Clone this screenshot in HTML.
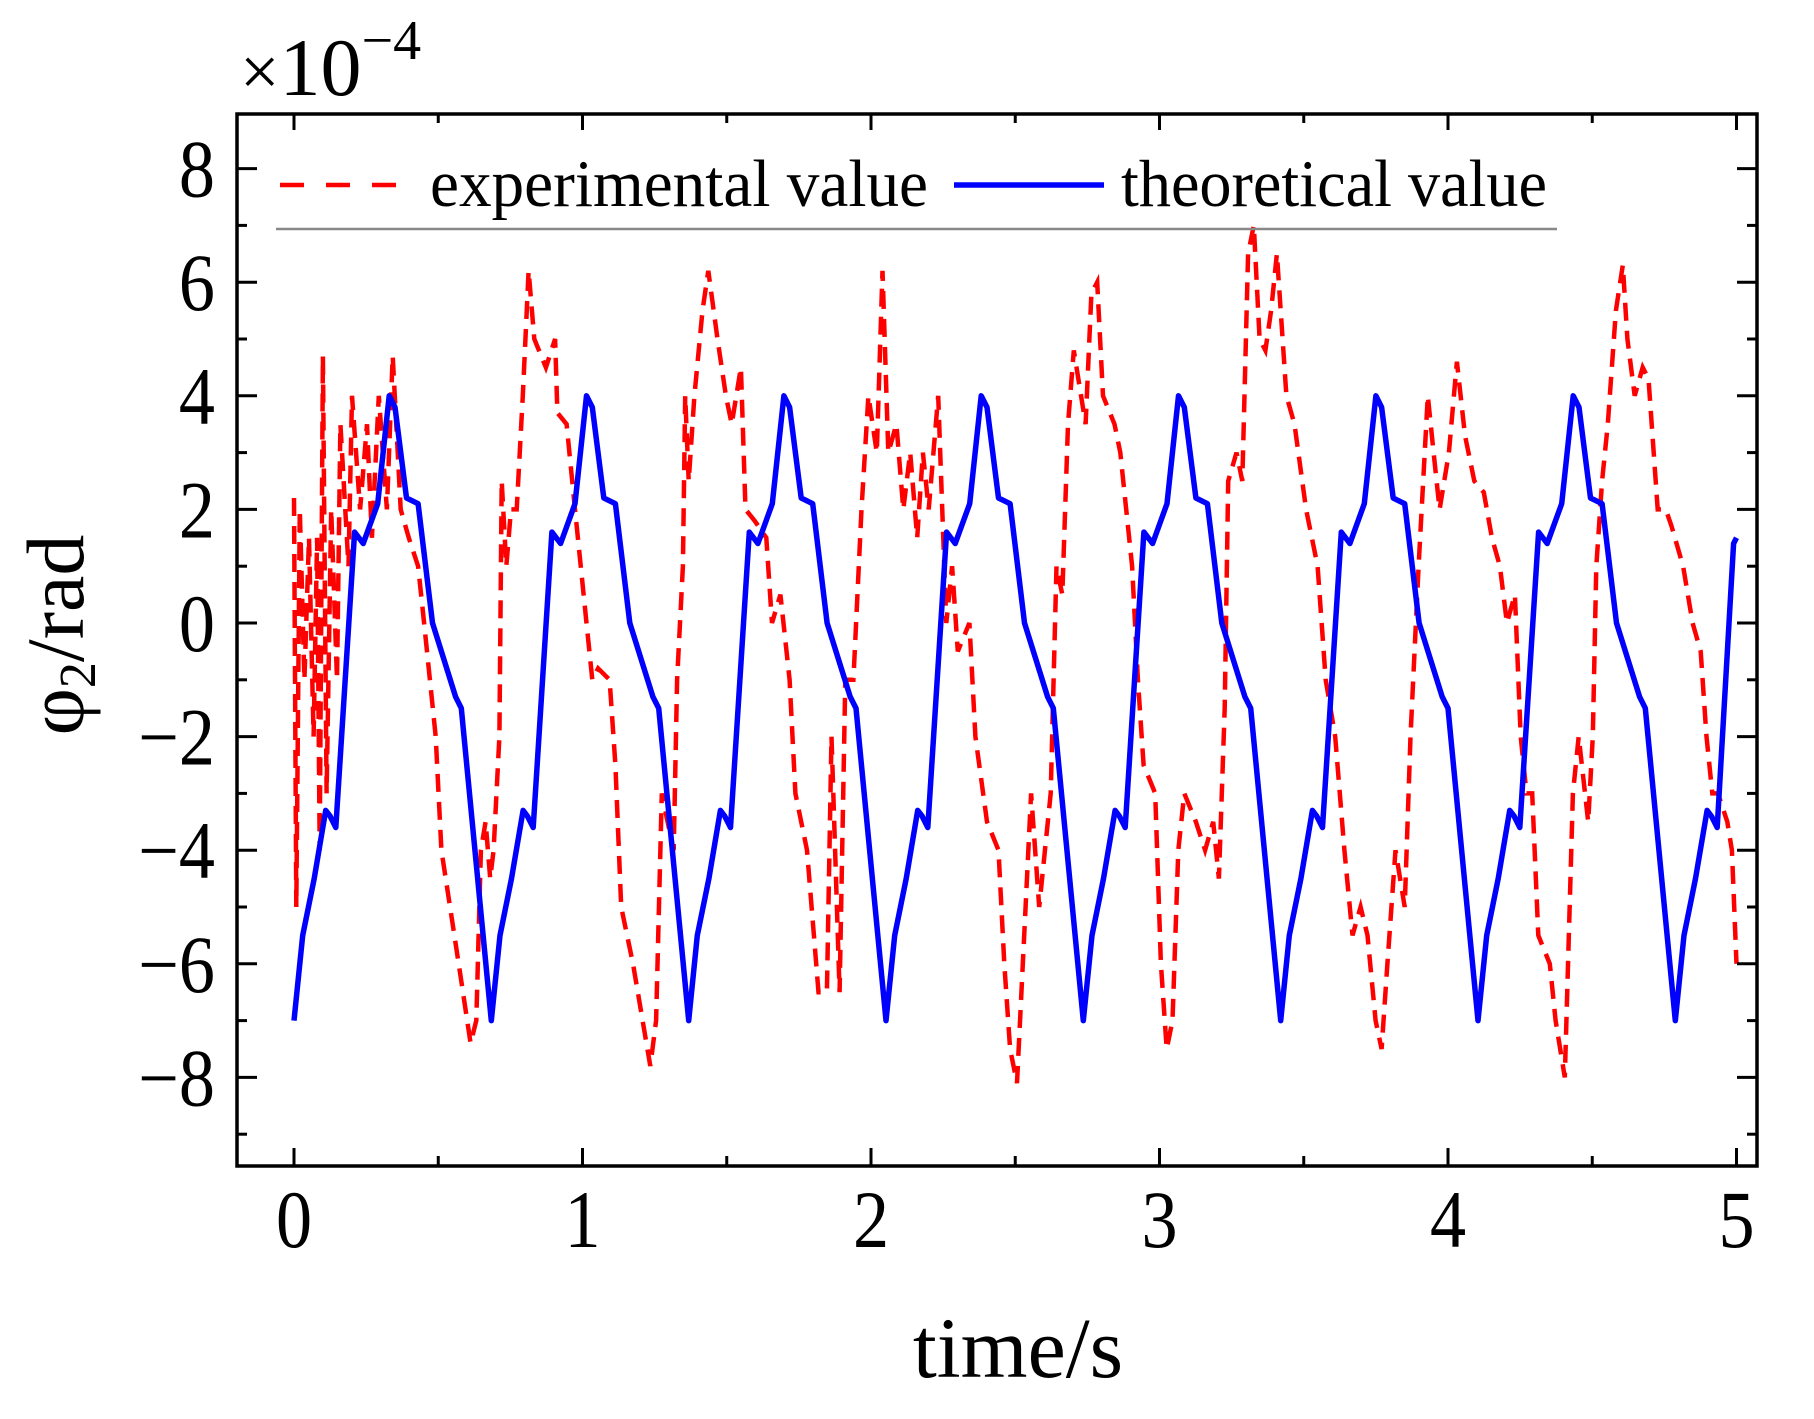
<!DOCTYPE html>
<html><head><meta charset="utf-8"><style>
html,body{margin:0;padding:0;background:#fff;}
svg{display:block;}
text{font-family:"Liberation Serif","Times New Roman",serif;fill:#000;}
</style></head>
<body>
<svg id="chart" width="1814" height="1419" viewBox="0 0 1814 1419" xmlns="http://www.w3.org/2000/svg">
<rect x="0" y="0" width="1814" height="1419" fill="#fff"/>
<g id="plot"></g>
<g id="axes"></g>
</svg>
<script>
// ---- data ----
const xTickValues = [0, 1, 2, 3, 4, 5];
const xTickLabels = ["0", "1", "2", "3", "4", "5"];
const yTickValues = [-8, -6, -4, -2, 0, 2, 4, 6, 8];
const yTickLabels = ["\u22128", "\u22126", "\u22124", "\u22122", "0", "2", "4", "6", "8"];
const xMinorValues = [0.5, 1.5, 2.5, 3.5, 4.5];
const yMinorValues = [-9, -7, -5, -3, -1, 1, 3, 5, 7];

const theoTime = [
0,.03,.07,.11,.125,.145,.21,.24,.29,.33,.35,.39,.43,.48,.56,.58,
.684,.714,.754,.794,.809,.829,.894,.924,.974,1.014,1.034,1.074,1.114,1.164,1.244,1.264,
1.368,1.398,1.438,1.478,1.493,1.513,1.578,1.608,1.658,1.698,1.718,1.758,1.798,1.848,1.928,1.948,
2.052,2.082,2.122,2.162,2.177,2.197,2.262,2.292,2.342,2.382,2.402,2.442,2.482,2.532,2.612,2.632,
2.736,2.766,2.806,2.846,2.861,2.881,2.946,2.976,3.026,3.066,3.086,3.126,3.166,3.216,3.296,3.316,
3.42,3.45,3.49,3.53,3.545,3.565,3.63,3.66,3.71,3.75,3.77,3.81,3.85,3.9,3.98,4.0,
4.104,4.134,4.174,4.214,4.229,4.249,4.314,4.344,4.394,4.434,4.454,4.494,4.534,4.584,4.664,4.684,
4.788,4.818,4.858,4.898,4.913,4.933,4.99,5.0];
const theoValue = [
-7,-5.5,-4.5,-3.3,-3.4,-3.6,1.6,1.4,2.1,4.0,3.8,2.2,2.1,0,-1.3,-1.5,
-7,-5.5,-4.5,-3.3,-3.4,-3.6,1.6,1.4,2.1,4.0,3.8,2.2,2.1,0,-1.3,-1.5,
-7,-5.5,-4.5,-3.3,-3.4,-3.6,1.6,1.4,2.1,4.0,3.8,2.2,2.1,0,-1.3,-1.5,
-7,-5.5,-4.5,-3.3,-3.4,-3.6,1.6,1.4,2.1,4.0,3.8,2.2,2.1,0,-1.3,-1.5,
-7,-5.5,-4.5,-3.3,-3.4,-3.6,1.6,1.4,2.1,4.0,3.8,2.2,2.1,0,-1.3,-1.5,
-7,-5.5,-4.5,-3.3,-3.4,-3.6,1.6,1.4,2.1,4.0,3.8,2.2,2.1,0,-1.3,-1.5,
-7,-5.5,-4.5,-3.3,-3.4,-3.6,1.6,1.4,2.1,4.0,3.8,2.2,2.1,0,-1.3,-1.5,
-7,-5.5,-4.5,-3.3,-3.4,-3.6,1.4,1.5];

const expTime = [
0,.008,.02,.036,.052,.068,.08,.089,.1,.113,.129,.149,.161,.189,.201,.229,.253,.27,.294,.322,.342,.37,.398,.43,.451,.491,.511,.571,.612,.632,.648,.664,.68,.692,.712,.72,.736,.752,.772,.793,.813,.833,.873,.905,.913,.945,.974,
1.014,1.034,1.054,1.094,1.114,1.134,1.175,1.235,1.255,1.275,1.295,1.316,1.328,1.348,1.356,1.368,1.388,1.416,1.436,1.468,1.497,1.517,1.549,1.565,1.597,1.637,1.657,1.686,1.718,1.738,1.778,1.818,1.847,1.863,1.891,1.911,1.939,1.967,1.991,
2.02,2.04,2.06,2.088,2.112,2.136,2.16,2.18,2.2,2.233,2.261,2.281,2.301,2.341,2.362,2.402,2.442,2.462,2.482,2.506,2.531,2.555,2.583,2.623,2.643,2.663,2.683,2.703,2.744,2.764,2.784,2.804,2.844,2.864,2.905,2.925,2.945,2.985,
3.005,3.025,3.045,3.065,3.086,3.126,3.158,3.186,3.206,3.226,3.238,3.267,3.287,3.307,3.327,3.347,3.367,3.387,3.407,3.44,3.468,3.508,3.548,3.576,3.609,3.641,3.669,3.697,3.721,3.749,3.77,3.79,3.818,3.85,3.87,3.898,3.93,3.95,3.971,
4.003,4.031,4.059,4.091,4.124,4.152,4.18,4.204,4.232,4.252,4.272,4.292,4.313,4.353,4.373,4.405,4.433,4.453,4.486,4.502,4.514,4.534,4.554,4.582,4.606,4.622,4.647,4.675,4.695,4.727,4.755,4.775,4.815,4.848,4.876,4.896,4.916,4.936,4.968,4.984,5.0];
const expValue = [
2.2,-5,2,-1,1.5,-2,1.5,-4,4.7,-3,2,-1,3.5,1,4,2,3.5,1.5,4,2,4.7,2,1.5,1,0,-2,-4,-6,-7.4,-7,-4,-3.5,-4.5,-4,-2,2.5,1,2,2,4,6.2,5,4.5,5,3.7,3.5,2,
0,-1,-0.8,-1,-2.5,-5,-6,-7.8,-7,-3,-3.5,-4,-1,1,4,2.5,4,5.5,6.2,5,4,3.5,4.5,2,1.8,1.5,0,0.5,-1,-3,-4,-6.5,-6.5,-2,-6.5,-1,-1,2,4,
3,6.2,3,3.5,2,3,1.5,3,2,4,0,1,-0.5,0,-2,-3.5,-4,-6,-7.5,-8.1,-5.5,-3,-5,-3,1,0.5,3.5,4.8,3.5,5.8,6,4,3.5,3,1,-1,-2.5,-3,
-6,-7.5,-7,-4,-3,-3.5,-4,-3.5,-4.5,-1.5,2.5,3,2.5,6.5,7,5,4.8,5.5,6.5,4,3.5,2,1,-1,-2,-4,-5.5,-5,-5.5,-7,-7.5,-6,-4,-5,-2,1,4,3,2,
3,4.6,3.3,2.5,2.3,1.5,1,0,0.5,-2,-3,-3,-5.5,-6,-7,-8,-3,-2,-3.5,-2,1,2.5,3.5,5.5,6.3,5,4,4.5,4.3,2,2,1.7,1,0,-0.5,-2,-3,-3,-3.5,-4,-6];

// ---- geometry ----
const L = 237, R = 1757, T = 114, B = 1166;
function xs(t){ return 294 + t * 288.5; }
function ys(v){ return 623 - v * 56.8; }
const NS = "http://www.w3.org/2000/svg";
function mk(tag, attrs, parent){
  const e = document.createElementNS(NS, tag);
  for (const k in attrs) e.setAttribute(k, attrs[k]);
  parent.appendChild(e);
  return e;
}
const plot = document.getElementById('plot');
const axes = document.getElementById('axes');

const defs = mk('defs', {}, plot);
const cp = mk('clipPath', {id:'clip'}, defs);
mk('rect', {x:L, y:T, width:R-L, height:B-T}, cp);

let d = '';
for (let i = 0; i < expTime.length; i++) d += (i ? 'L' : 'M') + xs(expTime[i]).toFixed(1) + ',' + ys(expValue[i]).toFixed(1);
const expPath = mk('path', {d:d, fill:'none', stroke:'#ff0000', 'stroke-width':4.5, 'stroke-dasharray':'18 10', 'clip-path':'url(#clip)'}, plot);



d = '';
for (let i = 0; i < theoTime.length; i++) d += (i ? 'L' : 'M') + xs(theoTime[i]).toFixed(1) + ',' + ys(theoValue[i]).toFixed(1);
const theoPath = mk('path', {d:d, fill:'none', stroke:'#0000ff', 'stroke-width':5.5, 'stroke-linejoin':'round', 'clip-path':'url(#clip)'}, plot);



const frame = mk('rect', {x:L, y:T, width:R-L, height:B-T, fill:'none', stroke:'#000', 'stroke-width':3.5}, axes);



function tick(x1,y1,x2,y2,name){
  const l = mk('line', {x1:x1,y1:y1,x2:x2,y2:y2,stroke:'#000','stroke-width':3}, axes);
  
  
}
function label(txt, x, y, size, anchor, name){
  const t = mk('text', {transform:'translate('+x+','+y+') scale(0.88,1)', 'font-size':size, 'text-anchor':anchor}, axes);
  t.textContent = txt;
  
  
  return t;
}
xTickValues.forEach((v,i)=>{
  const x = xs(v);
  tick(x, B, x, B-18, 'x-major-tick');
  tick(x, T, x, T+16, 'x-major-tick-top');
  label(xTickLabels[i], x, 1247, 82, 'middle', 'x-tick-label');
});
xMinorValues.forEach(v=>{
  const x = xs(v);
  tick(x, B, x, B-10, 'x-minor-tick');
  tick(x, T, x, T+9, 'x-minor-tick-top');
});
yTickValues.forEach((v,i)=>{
  const y = ys(v);
  tick(L, y, L+20, y, 'y-major-tick');
  tick(R, y, R-20, y, 'y-major-tick-right');
  label(yTickLabels[i], 215, y+28, 82, 'end', 'y-tick-label');
});
yMinorValues.forEach(v=>{
  const y = ys(v);
  tick(L, y, L+10, y, 'y-minor-tick');
  tick(R, y, R-10, y, 'y-minor-tick-right');
});

const mult = mk('text', {x:240, y:95, 'font-size':82}, axes);


mult.innerHTML = '<tspan font-size="70">\u00d7</tspan>10<tspan font-size="56" dy="-36">\u22124</tspan>';

const xt = mk('text', {x:1018, y:1377, 'font-size':86, 'text-anchor':'middle'}, axes);
xt.textContent = 'time/s';



const yt = mk('text', {transform:'translate(83,635) rotate(-90)', 'font-size':82, 'text-anchor':'middle'}, axes);


yt.innerHTML = '\u03c6<tspan font-size="52" dy="12">2</tspan><tspan dy="-12">/rad</tspan>';

const leg = mk('g', {}, axes);


const lr = mk('line', {x1:280, y1:185, x2:406, y2:185, stroke:'#ff0000', 'stroke-width':4.5, 'stroke-dasharray':'24 22'}, leg);


const t1 = mk('text', {x:430, y:206, 'font-size':67, textLength:498, lengthAdjust:'spacingAndGlyphs'}, leg);
t1.textContent = 'experimental value';


const lb = mk('line', {x1:954, y1:185, x2:1104, y2:185, stroke:'#0000ff', 'stroke-width':5.5}, leg);


const t2 = mk('text', {x:1121, y:206, 'font-size':67, textLength:426, lengthAdjust:'spacingAndGlyphs'}, leg);
t2.textContent = 'theoretical value';


const gl = mk('line', {x1:276, y1:229, x2:1557, y2:229, stroke:'#888', 'stroke-width':2.5}, leg);


</script>
</body></html>
